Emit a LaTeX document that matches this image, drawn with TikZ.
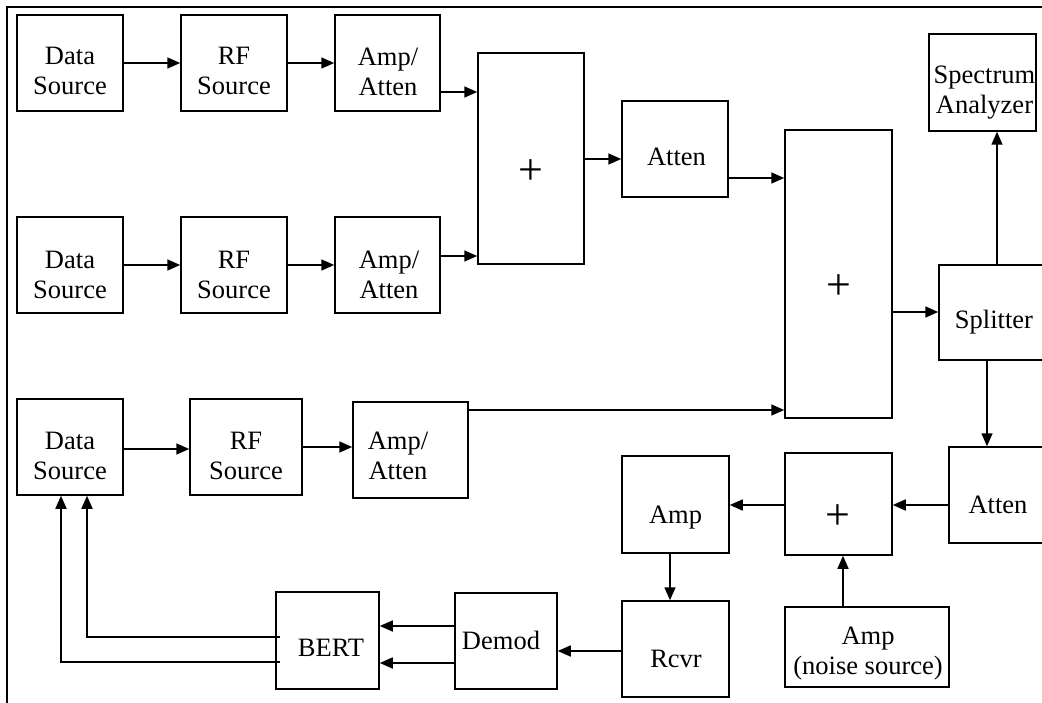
\documentclass[tikz,border=0pt]{standalone}
\usepackage{fontspec}
\setmainfont{Liberation Serif}
\usetikzlibrary{arrows.meta}
\begin{document}
\begin{tikzpicture}[x=1pt,y=-1pt,
  bx/.style={draw, line width=1.5pt, inner sep=0pt},
  tx/.style={font=\fontsize{26.5}{30}\selectfont, align=center, inner sep=0pt},
  pl/.style={font=\fontsize{44}{44}\selectfont, inner sep=0pt},
  arr/.style={line width=1.6pt, -{Triangle[length=13pt,width=11pt]}},
  ln/.style={line width=1.6pt}]
\useasboundingbox (0,0) rectangle (1042,703);
\clip (0,0) rectangle (1042,703);
\fill[white] (0,0) rectangle (1042,703);
\draw[line width=1.2pt] (1042,7) -- (7,7) -- (7,703);

% boxes
\node[bx, minimum width=106, minimum height=96] (ds1) at (70,63) {};
\node[bx, minimum width=106, minimum height=96] (rf1) at (234,63) {};
\node[bx, minimum width=105, minimum height=96] (amp1) at (387.5,63) {};
\node[bx, minimum width=106, minimum height=96] (ds2) at (70,265) {};
\node[bx, minimum width=106, minimum height=96] (rf2) at (234,265) {};
\node[bx, minimum width=105, minimum height=96] (amp2) at (387.5,265) {};
\node[bx, minimum width=106, minimum height=211] (plus1) at (531,158.5) {};
\node[bx, minimum width=106, minimum height=96] (atten1) at (675,149) {};
\node[bx, minimum width=107, minimum height=288] (plus2) at (838.5,274) {};
\node[bx, minimum width=107, minimum height=97] (spec) at (982.5,82.5) {};
\node[bx, minimum width=107, minimum height=95] (split) at (992.5,312.5) {};
\node[bx, minimum width=106, minimum height=96] (ds3) at (70,447) {};
\node[bx, minimum width=112, minimum height=96] (rf3) at (246,447) {};
\node[bx, minimum width=115, minimum height=96] (amp3) at (410.5,450) {};
\node[bx, minimum width=106, minimum height=96] (atten2) at (1002,495) {};
\node[bx, minimum width=107, minimum height=102] (plus3) at (838.5,504) {};
\node[bx, minimum width=107, minimum height=97] (ampb) at (675.5,504.5) {};
\node[bx, minimum width=164, minimum height=80] (noise) at (867,647) {};
\node[bx, minimum width=107, minimum height=96] (rcvr) at (675.5,649) {};
\node[bx, minimum width=102, minimum height=96] (demod) at (506,641) {};
\node[bx, minimum width=103, minimum height=97] (bert) at (327.5,640.5) {};

% texts
\node[tx] (ds1t) at (70,70.6) {Data\\Source};
\node[tx] (rf1t) at (234,70.6) {RF\\Source};
\node[tx] (amp1t) at (388,71.5) {Amp/\\Atten};
\node[tx] (ds2t) at (70,274.6) {Data\\Source};
\node[tx] (rf2t) at (234,274.6) {RF\\Source};
\node[tx] (amp2t) at (389,274.6) {Amp/\\Atten};
\node[tx] (ds3t) at (70,455.6) {Data\\Source};
\node[tx] (rf3t) at (246,455.6) {RF\\Source};
\node[tx] (amp3t) at (398,455.6) {Amp/\\Atten};
\node[tx] (spect) at (984.5,93) {Spectrum\\Analyzer};
\node[tx] (noiset) at (868,653.5) {Amp\\(noise source)};
\node[tx, anchor=base] (atten1t) at (676.5,166) {Atten};
\node[tx, anchor=base] (splitt) at (994,329) {Splitter};
\node[tx, anchor=base] (atten2t) at (998,513) {Atten};
\node[tx, anchor=base] (ampbt) at (675.5,523) {Amp};
\node[tx, anchor=base] (rcvrt) at (676,667) {Rcvr};
\node[tx, anchor=base] (demodt) at (501,649) {Demod};
\node[tx, anchor=base] (bertt) at (331,656) {BERT};
\node[pl] (plus1t) at (531,172) {+};
\node[pl] (plus2t) at (838.5,287) {+};
\node[pl] (plus3t) at (838,517) {+};

% connectors
\draw[arr] (ds1.east) -- (rf1.west);
\draw[arr] (rf1.east) -- (amp1.west);
\draw[arr] (amp1.east |- 0,92) -- (plus1.west |- 0,92);
\draw[arr] (ds2.east) -- (rf2.west);
\draw[arr] (rf2.east) -- (amp2.west);
\draw[arr] (amp2.east |- 0,256) -- (plus1.west |- 0,256);
\draw[arr] (ds3.east |- 0,449) -- (rf3.west |- 0,449);
\draw[arr] (rf3.east |- 0,447) -- (amp3.west |- 0,447);
\draw[arr] (amp3.east |- 0,410) -- (plus2.west |- 0,410);
\draw[arr] (plus1.east |- 0,159) -- (atten1.west |- 0,159);
\draw[arr] (atten1.east |- 0,178) -- (plus2.west |- 0,178);
\draw[arr] (plus2.east |- 0,312) -- (split.west |- 0,312);
\draw[arr] (split.north -| 997,0) -- (spec.south -| 997,0);
\draw[arr] (split.south -| 987,0) -- (atten2.north -| 987,0);
\draw[arr] (atten2.west |- 0,505) -- (plus3.east |- 0,505);
\draw[arr] (plus3.west |- 0,505) -- (ampb.east |- 0,505);
\draw[arr] (noise.north -| 843,0) -- (plus3.south -| 843,0);
\draw[arr] (ampb.south -| 670,0) -- (rcvr.north -| 670,0);
\draw[arr] (rcvr.west |- 0,651) -- (demod.east |- 0,651);
\draw[arr] (demod.west |- 0,626) -- (bert.east |- 0,626);
\draw[arr] (demod.west |- 0,663) -- (bert.east |- 0,663);
\draw[arr] ([xshift=5]bert.west |- 0,637) -| (ds3.south -| 87,0);
\draw[arr] ([xshift=5]bert.west |- 0,662) -| (ds3.south -| 61,0);
\end{tikzpicture}
\end{document}
